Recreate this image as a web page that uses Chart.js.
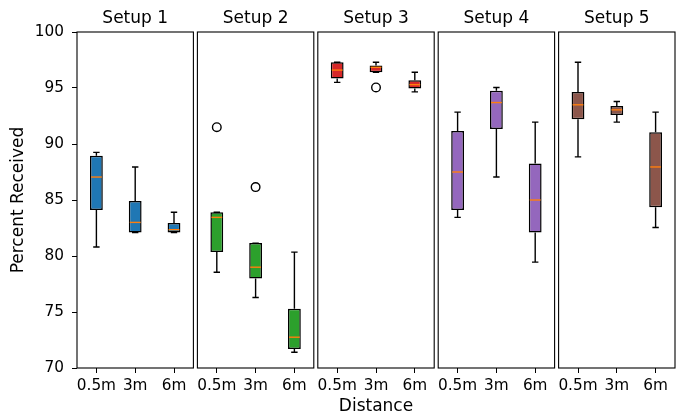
<!DOCTYPE html>
<html>
<head>
<meta charset="utf-8">
<title>Percent Received by Distance</title>
<script src="https://cdn.jsdelivr.net/npm/chart.js@4.4.0/dist/chart.umd.min.js"></script>
<style>
  body { margin: 0; background: #fff; }
  #fig { position: relative; width: 683px; height: 416px; overflow: hidden; }
  #fig canvas { position: absolute; top: 0; }
</style>
</head>
<body>
<div id="fig"></div>
<script>
// values, one row per setup, one column per distance
var distances = ['0.5m', '3m', '6m'];
var setups = ['Setup 1', 'Setup 2', 'Setup 3', 'Setup 4', 'Setup 5'];
var boxColors = ['#1f77b4', '#2ca02c', '#d62728', '#9467bd', '#8c564b'];

var whiskerLow = [
  [80.8, 82.1, 82.1],
  [78.55, 76.3, 71.4],
  [95.5, 96.4, 94.65],
  [83.45, 87.05, 79.45],
  [88.85, 91.95, 82.55]
];
var quartileLow = [
  [84.1, 82.1, 82.1],
  [80.35, 78.0, 71.7],
  [95.85, 96.4, 94.95],
  [84.1, 91.35, 82.1],
  [92.2, 92.6, 84.35]
];
var medians = [
  [87.05, 83.0, 82.35],
  [83.45, 79.0, 72.75],
  [96.6, 96.85, 95.3],
  [87.5, 93.7, 85.0],
  [93.5, 93.05, 87.95]
];
var quartileHigh = [
  [88.95, 84.9, 82.95],
  [83.9, 81.15, 75.3],
  [97.3, 97.0, 95.7],
  [91.15, 94.75, 88.25],
  [94.65, 93.4, 91.05]
];
var whiskerHigh = [
  [89.25, 87.95, 83.9],
  [83.9, 81.15, 80.35],
  [97.3, 97.3, 96.4],
  [92.85, 95.05, 91.95],
  [97.3, 93.8, 92.85]
];
// [distance index, value]
var outliers = [
  [],
  [[0, 91.5], [1, 86.15]],
  [[1, 95.05]],
  [],
  []
];

Chart.defaults.font.family = 'DejaVu Sans';
Chart.defaults.color = '#000';

var PANEL_LEFT = 77, PANEL_W = 116.4, GAP = 4, MARGIN = 6, H = 417;
var tickFont = { size: 15.3 };
var labelFont = { size: 17 };

var boxWhiskers = {
  id: 'boxWhiskers',
  afterDatasetsDraw: function (chart, args, opts) {
    var s = opts.setup;
    var ctx = chart.ctx, y = chart.scales.y;
    var bars = chart.getDatasetMeta(0).data;
    ctx.save();
    bars.forEach(function (bar, i) {
      var xc = bar.x, w = bar.width;
      var lo = y.getPixelForValue(whiskerLow[s][i]);
      var q1 = y.getPixelForValue(quartileLow[s][i]);
      var q3 = y.getPixelForValue(quartileHigh[s][i]);
      var hi = y.getPixelForValue(whiskerHigh[s][i]);
      var med = y.getPixelForValue(medians[s][i]);
      ctx.strokeStyle = '#000';
      ctx.lineWidth = 1.4;
      ctx.beginPath();
      ctx.moveTo(xc, q3); ctx.lineTo(xc, hi);
      ctx.moveTo(xc, q1); ctx.lineTo(xc, lo);
      ctx.moveTo(xc - w / 4, hi); ctx.lineTo(xc + w / 4, hi);
      ctx.moveTo(xc - w / 4, lo); ctx.lineTo(xc + w / 4, lo);
      ctx.stroke();
      ctx.strokeStyle = '#ff7f0e';
      ctx.lineWidth = 1.4;
      ctx.beginPath();
      ctx.moveTo(xc - w / 2 + 1, med); ctx.lineTo(xc + w / 2 - 1, med);
      ctx.stroke();
    });
    // axes frame
    var a = chart.chartArea;
    ctx.strokeStyle = '#000';
    ctx.lineWidth = 1.1;
    ctx.strokeRect(a.left, a.top, a.right - a.left, a.bottom - a.top);
    ctx.restore();
  }
};

var fig = document.getElementById('fig');

setups.forEach(function (name, s) {
  var left = PANEL_LEFT + s * (PANEL_W + GAP);
  var first = s === 0;
  var cLeft = first ? 0 : Math.floor(left - MARGIN);
  var cRight = Math.ceil(left + PANEL_W + MARGIN);
  var cWidth = cRight - cLeft;
  var padLeft = first ? 0 : left - cLeft;
  var padRight = cWidth - (left - cLeft) - PANEL_W;

  var canvas = document.createElement('canvas');
  canvas.width = cWidth;
  canvas.height = H;
  canvas.style.left = cLeft + 'px';
  canvas.style.width = cWidth + 'px';
  canvas.style.height = H + 'px';
  fig.appendChild(canvas);

  new Chart(canvas.getContext('2d'), {
    type: 'bar',
    data: {
      labels: distances,
      datasets: [{
        data: distances.map(function (d, i) { return [quartileLow[s][i], quartileHigh[s][i]]; }),
        backgroundColor: boxColors[s],
        borderColor: '#000',
        borderWidth: 1.5,
        borderSkipped: false,
        barPercentage: 0.33,
        categoryPercentage: 1,
        grouped: false
      }, {
        type: 'line',
        showLine: false,
        data: outliers[s].map(function (o) { return { x: distances[o[0]], y: o[1] }; }),
        pointRadius: 4.3,
        pointBorderWidth: 1.4,
        borderColor: '#000',
        backgroundColor: 'rgba(0,0,0,0)'
      }]
    },
    options: {
      responsive: false,
      animation: false,
      devicePixelRatio: 1,
      layout: { padding: { left: padLeft, right: padRight, top: 0, bottom: 0 } },
      plugins: {
        legend: { display: false },
        tooltip: { enabled: false },
        boxWhiskers: { setup: s }
      },
      scales: {
        x: {
          type: 'category',
          offset: true,
          ticks: { font: tickFont, color: '#000', padding: 4, maxRotation: 0, autoSkip: false },
          grid: { drawOnChartArea: false, offset: false, tickLength: 5, color: '#000', lineWidth: 1 },
          border: { display: false },
          title: { display: s === 2, text: 'Distance', font: labelFont, color: '#000', padding: 0 },
          afterFit: function (sc) { sc.height = 49; }
        },
        // top axis only carries the panel title
        top: {
          type: 'category',
          position: 'top',
          offset: true,
          ticks: { display: false },
          grid: { display: false },
          border: { display: false },
          title: { display: true, text: name, font: labelFont, color: '#000', padding: { top: 8, bottom: 0 } },
          afterFit: function (sc) { sc.height = 32; }
        },
        y: {
          display: first,
          min: 70,
          max: 100,
          ticks: { stepSize: 5, font: tickFont, color: '#000', padding: 8 },
          grid: { drawOnChartArea: false, tickLength: 5, color: '#000', lineWidth: 1 },
          border: { display: false },
          title: { display: true, text: 'Percent Received', font: labelFont, color: '#000', padding: { top: 8, bottom: 0 } },
          afterFit: function (sc) { sc.width = first ? PANEL_LEFT : 0; }
        }
      }
    },
    plugins: [boxWhiskers]
  });
});
</script>
</body>
</html>
